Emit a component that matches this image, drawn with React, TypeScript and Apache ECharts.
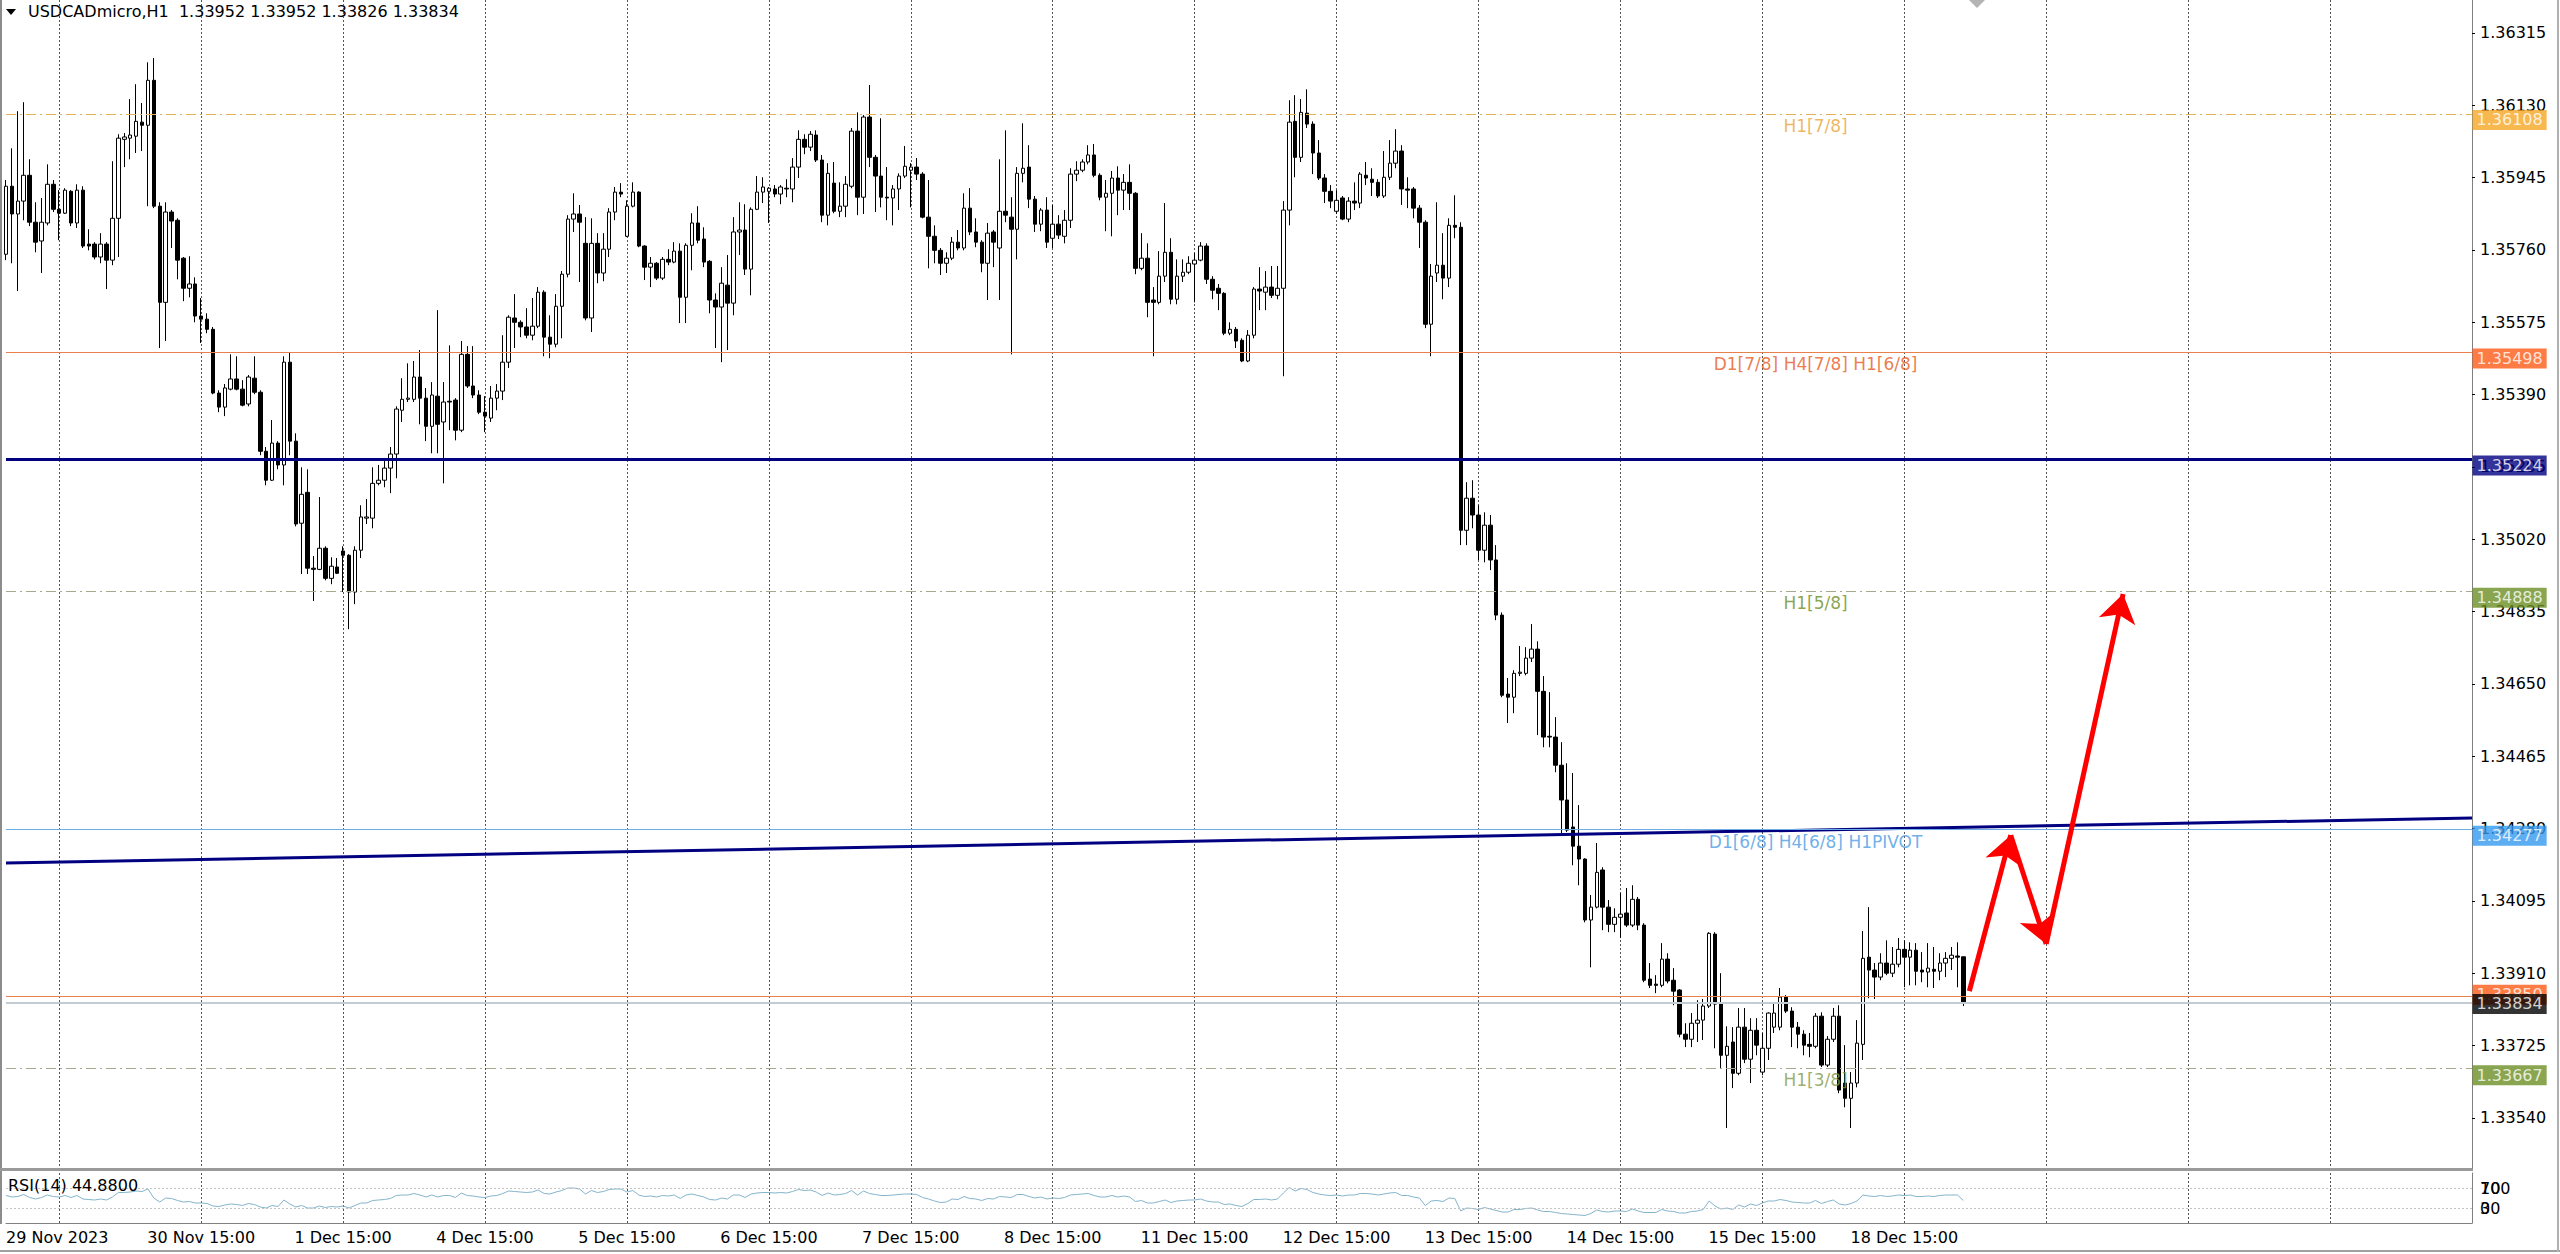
import React, { useEffect, useRef } from 'react';
import * as echarts from 'echarts';

const FONT = 'DejaVu Sans';

// hourly candles, each row: [open, high, low, close]
const candles: number[][] = [
  [1.35749, 1.35939, 1.35734, 1.35923], [1.35923, 1.36020, 1.35726, 1.35852], [1.35852, 1.36115, 1.35655, 1.35885], [1.35885, 1.36138, 1.35836, 1.35951],
  [1.35951, 1.35992, 1.35821, 1.35831], [1.35831, 1.35882, 1.35754, 1.35780], [1.35783, 1.35893, 1.35701, 1.35831], [1.35829, 1.35979, 1.35823, 1.35928],
  [1.35928, 1.35939, 1.35857, 1.35864], [1.35864, 1.35913, 1.35785, 1.35854], [1.35854, 1.35918, 1.35852, 1.35913], [1.35910, 1.35913, 1.35821, 1.35829],
  [1.35829, 1.35928, 1.35816, 1.35913], [1.35913, 1.35923, 1.35765, 1.35770], [1.35775, 1.35813, 1.35759, 1.35770], [1.35775, 1.35780, 1.35736, 1.35742],
  [1.35742, 1.35803, 1.35726, 1.35775], [1.35775, 1.35780, 1.35660, 1.35734], [1.35734, 1.35987, 1.35721, 1.35841], [1.35841, 1.36056, 1.35742, 1.36046],
  [1.36043, 1.36059, 1.35972, 1.36049], [1.36046, 1.36146, 1.35992, 1.36054], [1.36051, 1.36184, 1.36008, 1.36089], [1.36087, 1.36136, 1.36013, 1.36079],
  [1.36079, 1.36240, 1.35872, 1.36194], [1.36194, 1.36251, 1.35867, 1.35872], [1.35872, 1.35882, 1.35509, 1.35626], [1.35626, 1.35882, 1.35527, 1.35857],
  [1.35857, 1.35862, 1.35765, 1.35834], [1.35836, 1.35841, 1.35685, 1.35734], [1.35739, 1.35742, 1.35629, 1.35662], [1.35662, 1.35744, 1.35639, 1.35673],
  [1.35673, 1.35690, 1.35575, 1.35591], [1.35591, 1.35637, 1.35522, 1.35583], [1.35583, 1.35598, 1.35547, 1.35557], [1.35557, 1.35563, 1.35391, 1.35394],
  [1.35394, 1.35401, 1.35345, 1.35358], [1.35358, 1.35417, 1.35335, 1.35407], [1.35404, 1.35493, 1.35401, 1.35430], [1.35430, 1.35488, 1.35401, 1.35404],
  [1.35404, 1.35427, 1.35360, 1.35363], [1.35366, 1.35440, 1.35360, 1.35435], [1.35432, 1.35488, 1.35391, 1.35396], [1.35396, 1.35401, 1.35235, 1.35245],
  [1.35245, 1.35256, 1.35158, 1.35171], [1.35171, 1.35325, 1.35169, 1.35266], [1.35266, 1.35271, 1.35199, 1.35210], [1.35210, 1.35488, 1.35158, 1.35473],
  [1.35473, 1.35499, 1.35235, 1.35271], [1.35271, 1.35291, 1.35053, 1.35059], [1.35061, 1.35204, 1.34931, 1.35135], [1.35140, 1.35199, 1.34931, 1.34946],
  [1.34946, 1.34977, 1.34862, 1.34943], [1.34943, 1.35128, 1.34941, 1.34997], [1.34997, 1.35002, 1.34915, 1.34920], [1.34920, 1.34974, 1.34905, 1.34951],
  [1.34949, 1.34972, 1.34931, 1.34933], [1.34990, 1.35002, 1.34885, 1.34979], [1.34979, 1.34982, 1.34790, 1.34885], [1.34885, 1.35002, 1.34854, 1.34992],
  [1.34992, 1.35107, 1.34972, 1.35077], [1.35074, 1.35123, 1.35059, 1.35077], [1.35074, 1.35204, 1.35048, 1.35163], [1.35163, 1.35210, 1.35158, 1.35171],
  [1.35171, 1.35220, 1.35153, 1.35202], [1.35202, 1.35256, 1.35138, 1.35238], [1.35238, 1.35360, 1.35176, 1.35353], [1.35350, 1.35432, 1.35320, 1.35378],
  [1.35378, 1.35470, 1.35371, 1.35381], [1.35378, 1.35476, 1.35371, 1.35435], [1.35435, 1.35504, 1.35314, 1.35381], [1.35381, 1.35407, 1.35271, 1.35309],
  [1.35309, 1.35422, 1.35240, 1.35389], [1.35386, 1.35606, 1.35240, 1.35314], [1.35320, 1.35422, 1.35163, 1.35371], [1.35373, 1.35516, 1.35299, 1.35371],
  [1.35376, 1.35381, 1.35273, 1.35299], [1.35299, 1.35527, 1.35294, 1.35493], [1.35493, 1.35514, 1.35407, 1.35412], [1.35412, 1.35514, 1.35381, 1.35389],
  [1.35389, 1.35401, 1.35340, 1.35345], [1.35345, 1.35386, 1.35294, 1.35335], [1.35330, 1.35412, 1.35320, 1.35381], [1.35381, 1.35417, 1.35350, 1.35399],
  [1.35399, 1.35542, 1.35376, 1.35473], [1.35473, 1.35593, 1.35458, 1.35588], [1.35586, 1.35647, 1.35509, 1.35575], [1.35575, 1.35580, 1.35537, 1.35563],
  [1.35563, 1.35611, 1.35534, 1.35542], [1.35542, 1.35637, 1.35529, 1.35565], [1.35565, 1.35665, 1.35560, 1.35652], [1.35652, 1.35657, 1.35488, 1.35537],
  [1.35537, 1.35593, 1.35483, 1.35519], [1.35519, 1.35647, 1.35511, 1.35616], [1.35616, 1.35706, 1.35534, 1.35698], [1.35698, 1.35849, 1.35690, 1.35839],
  [1.35839, 1.35905, 1.35806, 1.35852], [1.35852, 1.35875, 1.35678, 1.35831], [1.35777, 1.35844, 1.35580, 1.35586], [1.35586, 1.35841, 1.35550, 1.35777],
  [1.35777, 1.35803, 1.35675, 1.35701], [1.35701, 1.35803, 1.35680, 1.35762], [1.35762, 1.35867, 1.35742, 1.35857], [1.35857, 1.35921, 1.35836, 1.35908],
  [1.35908, 1.35931, 1.35895, 1.35903], [1.35795, 1.35887, 1.35793, 1.35872], [1.35872, 1.35933, 1.35869, 1.35908], [1.35908, 1.35910, 1.35767, 1.35770],
  [1.35770, 1.35772, 1.35683, 1.35716], [1.35716, 1.35742, 1.35665, 1.35726], [1.35726, 1.35729, 1.35683, 1.35688], [1.35688, 1.35742, 1.35683, 1.35736],
  [1.35736, 1.35762, 1.35721, 1.35729], [1.35729, 1.35780, 1.35726, 1.35757], [1.35757, 1.35777, 1.35573, 1.35639], [1.35639, 1.35777, 1.35573, 1.35772],
  [1.35772, 1.35854, 1.35708, 1.35829], [1.35829, 1.35872, 1.35777, 1.35785], [1.35788, 1.35818, 1.35716, 1.35729], [1.35731, 1.35734, 1.35598, 1.35632],
  [1.35632, 1.35649, 1.35509, 1.35614], [1.35614, 1.35716, 1.35473, 1.35675], [1.35670, 1.35747, 1.35504, 1.35624], [1.35624, 1.35844, 1.35593, 1.35806],
  [1.35806, 1.35882, 1.35747, 1.35811], [1.35811, 1.35877, 1.35696, 1.35711], [1.35711, 1.35869, 1.35644, 1.35864], [1.35864, 1.35949, 1.35862, 1.35908],
  [1.35908, 1.35946, 1.35880, 1.35921], [1.35910, 1.35921, 1.35829, 1.35918], [1.35916, 1.35926, 1.35895, 1.35903], [1.35903, 1.35926, 1.35877, 1.35921],
  [1.35918, 1.35941, 1.35895, 1.35916], [1.35916, 1.35995, 1.35882, 1.35972], [1.35972, 1.36066, 1.35944, 1.36043], [1.36043, 1.36056, 1.36005, 1.36023],
  [1.36023, 1.36064, 1.36013, 1.36056], [1.36054, 1.36066, 1.35985, 1.35990], [1.35990, 1.36003, 1.35831, 1.35849], [1.35849, 1.35982, 1.35823, 1.35956],
  [1.35931, 1.35985, 1.35854, 1.35859], [1.35859, 1.35933, 1.35844, 1.35872], [1.35872, 1.35949, 1.35844, 1.35928], [1.35923, 1.36072, 1.35918, 1.36064],
  [1.36064, 1.36112, 1.35849, 1.35895], [1.35895, 1.36105, 1.35852, 1.36100], [1.36100, 1.36182, 1.35972, 1.35997], [1.35997, 1.36003, 1.35857, 1.35949],
  [1.35949, 1.36097, 1.35869, 1.35895], [1.35895, 1.35972, 1.35836, 1.35893], [1.35893, 1.35926, 1.35823, 1.35916], [1.35916, 1.35956, 1.35862, 1.35949],
  [1.35949, 1.36026, 1.35944, 1.35974], [1.35964, 1.35982, 1.35869, 1.35972], [1.35972, 1.35995, 1.35939, 1.35954], [1.35954, 1.35959, 1.35841, 1.35844],
  [1.35844, 1.35939, 1.35713, 1.35795], [1.35795, 1.35823, 1.35726, 1.35759], [1.35759, 1.35765, 1.35696, 1.35726], [1.35726, 1.35754, 1.35701, 1.35739],
  [1.35739, 1.35793, 1.35734, 1.35780], [1.35780, 1.35811, 1.35759, 1.35765], [1.35765, 1.35905, 1.35759, 1.35867], [1.35867, 1.35918, 1.35798, 1.35806],
  [1.35806, 1.35841, 1.35767, 1.35780], [1.35780, 1.35785, 1.35703, 1.35726], [1.35726, 1.35829, 1.35632, 1.35803], [1.35806, 1.35811, 1.35716, 1.35780],
  [1.35765, 1.35992, 1.35632, 1.35859], [1.35859, 1.36066, 1.35831, 1.35849], [1.35844, 1.35895, 1.35493, 1.35813], [1.35813, 1.35972, 1.35736, 1.35956],
  [1.35956, 1.36084, 1.35933, 1.35969], [1.35972, 1.36028, 1.35867, 1.35890], [1.35890, 1.35898, 1.35806, 1.35826], [1.35826, 1.35867, 1.35808, 1.35862],
  [1.35862, 1.35895, 1.35765, 1.35780], [1.35790, 1.35875, 1.35765, 1.35826], [1.35826, 1.35849, 1.35788, 1.35798], [1.35795, 1.35862, 1.35777, 1.35836],
  [1.35836, 1.35969, 1.35816, 1.35954], [1.35954, 1.35987, 1.35936, 1.35964], [1.35964, 1.35992, 1.35959, 1.35985], [1.35985, 1.36028, 1.35979, 1.36003],
  [1.36003, 1.36031, 1.35946, 1.35951], [1.35951, 1.35956, 1.35887, 1.35895], [1.35895, 1.35939, 1.35808, 1.35905], [1.35905, 1.35962, 1.35795, 1.35944],
  [1.35944, 1.35974, 1.35849, 1.35913], [1.35913, 1.35954, 1.35862, 1.35933], [1.35933, 1.35979, 1.35862, 1.35905], [1.35905, 1.35908, 1.35698, 1.35713],
  [1.35713, 1.35803, 1.35708, 1.35739], [1.35739, 1.35777, 1.35588, 1.35626], [1.35632, 1.35665, 1.35488, 1.35626], [1.35626, 1.35757, 1.35621, 1.35693],
  [1.35693, 1.35880, 1.35678, 1.35754], [1.35754, 1.35790, 1.35621, 1.35634], [1.35634, 1.35736, 1.35621, 1.35693], [1.35693, 1.35736, 1.35678, 1.35703],
  [1.35703, 1.35744, 1.35698, 1.35726], [1.35724, 1.35752, 1.35626, 1.35734], [1.35734, 1.35780, 1.35731, 1.35770], [1.35770, 1.35777, 1.35673, 1.35685],
  [1.35685, 1.35693, 1.35634, 1.35657], [1.35662, 1.35673, 1.35606, 1.35649], [1.35649, 1.35652, 1.35542, 1.35547], [1.35547, 1.35575, 1.35542, 1.35557],
  [1.35557, 1.35563, 1.35509, 1.35527], [1.35529, 1.35534, 1.35473, 1.35476], [1.35476, 1.35555, 1.35473, 1.35542], [1.35542, 1.35665, 1.35534, 1.35660],
  [1.35660, 1.35716, 1.35606, 1.35655], [1.35652, 1.35706, 1.35606, 1.35665], [1.35665, 1.35719, 1.35637, 1.35644], [1.35644, 1.35719, 1.35634, 1.35662],
  [1.35662, 1.35885, 1.35437, 1.35862], [1.35862, 1.36143, 1.35823, 1.36087], [1.36089, 1.36156, 1.35946, 1.35997], [1.35997, 1.36146, 1.35985, 1.36112],
  [1.36110, 1.36171, 1.36072, 1.36082], [1.36082, 1.36089, 1.35954, 1.36008], [1.36008, 1.36041, 1.35939, 1.35944], [1.35944, 1.35954, 1.35880, 1.35910],
  [1.35910, 1.35926, 1.35867, 1.35885], [1.35859, 1.35913, 1.35852, 1.35887], [1.35893, 1.35898, 1.35836, 1.35839], [1.35839, 1.35895, 1.35831, 1.35885],
  [1.35885, 1.35933, 1.35862, 1.35880], [1.35880, 1.35959, 1.35867, 1.35954], [1.35951, 1.35985, 1.35926, 1.35944], [1.35941, 1.35969, 1.35898, 1.35933],
  [1.35933, 1.35941, 1.35893, 1.35898], [1.35898, 1.36013, 1.35893, 1.35946], [1.35946, 1.36041, 1.35939, 1.35982], [1.35982, 1.36069, 1.35969, 1.36013],
  [1.36013, 1.36028, 1.35875, 1.35916], [1.35916, 1.35946, 1.35867, 1.35913], [1.35916, 1.35921, 1.35841, 1.35867], [1.35867, 1.35875, 1.35765, 1.35831],
  [1.35831, 1.35836, 1.35560, 1.35570], [1.35570, 1.35724, 1.35488, 1.35693], [1.35701, 1.35882, 1.35678, 1.35721], [1.35721, 1.35803, 1.35634, 1.35688],
  [1.35688, 1.35841, 1.35665, 1.35823], [1.35823, 1.35900, 1.35790, 1.35818], [1.35818, 1.35831, 1.35005, 1.35043], [1.35043, 1.35166, 1.35005, 1.35125],
  [1.35125, 1.35171, 1.35048, 1.35082], [1.35082, 1.35107, 1.34967, 1.34992], [1.34992, 1.35089, 1.34961, 1.35056], [1.35056, 1.35082, 1.34941, 1.34967],
  [1.34967, 1.35005, 1.34813, 1.34826], [1.34826, 1.34833, 1.34616, 1.34621], [1.34624, 1.34665, 1.34550, 1.34616], [1.34616, 1.34685, 1.34575, 1.34677],
  [1.34677, 1.34747, 1.34670, 1.34680], [1.34677, 1.34744, 1.34672, 1.34716], [1.34716, 1.34803, 1.34706, 1.34739], [1.34739, 1.34759, 1.34519, 1.34631],
  [1.34631, 1.34670, 1.34488, 1.34514], [1.34516, 1.34629, 1.34488, 1.34514], [1.34514, 1.34565, 1.34424, 1.34442], [1.34442, 1.34501, 1.34268, 1.34353],
  [1.34353, 1.34447, 1.34271, 1.34276], [1.34284, 1.34422, 1.34186, 1.34235], [1.34235, 1.34340, 1.34135, 1.34202], [1.34202, 1.34204, 1.34040, 1.34046],
  [1.34046, 1.34110, 1.33925, 1.34079], [1.34079, 1.34243, 1.34076, 1.34168], [1.34174, 1.34181, 1.34020, 1.34079], [1.34079, 1.34097, 1.34015, 1.34035],
  [1.34035, 1.34076, 1.34015, 1.34053], [1.34053, 1.34115, 1.34000, 1.34061], [1.34064, 1.34128, 1.34028, 1.34033], [1.34033, 1.34135, 1.34028, 1.34099],
  [1.34099, 1.34105, 1.34020, 1.34033], [1.34033, 1.34038, 1.33887, 1.33892], [1.33895, 1.33936, 1.33872, 1.33879], [1.33882, 1.33905, 1.33859, 1.33879],
  [1.33879, 1.33987, 1.33874, 1.33946], [1.33946, 1.33961, 1.33884, 1.33890], [1.33892, 1.33923, 1.33828, 1.33864], [1.33867, 1.33869, 1.33746, 1.33754],
  [1.33754, 1.33782, 1.33721, 1.33741], [1.33741, 1.33808, 1.33721, 1.33782], [1.33782, 1.33841, 1.33734, 1.33790], [1.33790, 1.33844, 1.33739, 1.33826],
  [1.33826, 1.34015, 1.33821, 1.34012], [1.34010, 1.34015, 1.33718, 1.33831], [1.33833, 1.33910, 1.33667, 1.33700], [1.33700, 1.33774, 1.33514, 1.33723],
  [1.33734, 1.33772, 1.33616, 1.33654], [1.33654, 1.33821, 1.33649, 1.33772], [1.33772, 1.33821, 1.33680, 1.33690], [1.33690, 1.33795, 1.33629, 1.33764],
  [1.33764, 1.33795, 1.33700, 1.33726], [1.33657, 1.33757, 1.33649, 1.33718], [1.33718, 1.33810, 1.33688, 1.33808], [1.33772, 1.33833, 1.33757, 1.33808],
  [1.33772, 1.33872, 1.33764, 1.33849], [1.33849, 1.33854, 1.33808, 1.33813], [1.33813, 1.33823, 1.33721, 1.33772], [1.33772, 1.33785, 1.33718, 1.33754],
  [1.33754, 1.33764, 1.33700, 1.33726], [1.33728, 1.33757, 1.33695, 1.33723], [1.33723, 1.33808, 1.33718, 1.33800], [1.33800, 1.33810, 1.33670, 1.33675],
  [1.33675, 1.33749, 1.33670, 1.33741], [1.33741, 1.33821, 1.33734, 1.33800], [1.33800, 1.33828, 1.33603, 1.33611], [1.33629, 1.33726, 1.33567, 1.33590],
  [1.33590, 1.33657, 1.33514, 1.33629], [1.33629, 1.33790, 1.33618, 1.33731], [1.33728, 1.34018, 1.33688, 1.33948], [1.33951, 1.34079, 1.33846, 1.33918],
  [1.33918, 1.33936, 1.33844, 1.33900], [1.33900, 1.33961, 1.33892, 1.33936], [1.33936, 1.33994, 1.33905, 1.33910], [1.33910, 1.33977, 1.33900, 1.33933],
  [1.33933, 1.34000, 1.33925, 1.33971], [1.33971, 1.33994, 1.33874, 1.33951], [1.33951, 1.33989, 1.33879, 1.33969], [1.33969, 1.33987, 1.33879, 1.33915],
  [1.33918, 1.33964, 1.33887, 1.33913], [1.33913, 1.33987, 1.33874, 1.33923], [1.33920, 1.33977, 1.33872, 1.33915], [1.33915, 1.33961, 1.33892, 1.33936],
  [1.33936, 1.33964, 1.33900, 1.33948], [1.33948, 1.33977, 1.33918, 1.33956], [1.33954, 1.33989, 1.33874, 1.33951], [1.33952, 1.33952, 1.33826, 1.33834],
];

// RSI(14) per bar
const rsi14: number[] = [
  55, 52, 53, 57, 51, 48, 51, 56, 53, 52, 55, 51, 55, 48, 47, 46, 48, 46, 52, 61,
  61, 62, 64, 63, 68, 50, 42, 50, 49, 45, 42, 43, 40, 40, 39, 34, 33, 36, 38, 37,
  35, 39, 37, 32, 30, 35, 33, 46, 38, 32, 35, 30, 30, 34, 31, 33, 32, 34, 30, 35,
  40, 40, 45, 46, 47, 49, 55, 56, 56, 59, 56, 52, 56, 52, 55, 55, 51, 60, 55, 54,
  52, 51, 54, 55, 59, 64, 63, 62, 61, 62, 66, 59, 58, 62, 65, 70, 70, 68, 58, 65,
  61, 63, 67, 68, 68, 62, 65, 56, 53, 54, 52, 55, 54, 56, 49, 56, 58, 55, 52, 47,
  46, 50, 48, 56, 56, 51, 58, 60, 61, 61, 60, 61, 60, 63, 67, 65, 66, 62, 55, 60,
  56, 57, 59, 65, 56, 64, 59, 57, 55, 55, 56, 57, 58, 58, 57, 51, 48, 44, 41, 42,
  48, 47, 53, 49, 48, 45, 49, 48, 53, 52, 51, 57, 57, 53, 50, 52, 48, 50, 49, 51,
  56, 57, 58, 59, 55, 52, 52, 55, 52, 54, 52, 43, 45, 40, 40, 43, 46, 41, 44, 45,
  46, 46, 48, 44, 42, 42, 37, 38, 35, 33, 39, 47, 47, 48, 46, 48, 60, 71, 64, 69,
  67, 61, 58, 56, 55, 56, 54, 56, 56, 59, 59, 58, 56, 58, 60, 61, 55, 55, 52, 50,
  35, 44, 45, 43, 50, 49, 24, 30, 29, 27, 31, 28, 25, 22, 22, 27, 27, 29, 30, 26,
  23, 23, 21, 19, 18, 17, 16, 15, 19, 26, 23, 22, 24, 24, 23, 28, 24, 21, 21, 21,
  27, 24, 23, 20, 20, 23, 24, 27, 44, 34, 28, 30, 27, 36, 32, 38, 35, 40, 44, 44,
  47, 45, 42, 41, 40, 40, 45, 39, 43, 46, 38, 36, 39, 44, 56, 54, 53, 55, 53, 54,
  56, 55, 56, 53, 53, 54, 53, 55, 56, 56, 56, 44.88,
];

const priceTicks = [1.3354, 1.33725, 1.3391, 1.34095, 1.3428, 1.34465, 1.3465, 1.34835, 1.3502, 1.35205, 1.3539, 1.35575, 1.3576, 1.35945, 1.3613, 1.36315];
const rsiTicks = [30, 70];
const rsiLevels = [30, 70];

// [bar index, label]
const timeLabels: [number, string][] = [
  [0, '29 Nov 2023'], [33, '30 Nov 15:00'], [57, '1 Dec 15:00'], [81, '4 Dec 15:00'], [105, '5 Dec 15:00'],
  [129, '6 Dec 15:00'], [153, '7 Dec 15:00'], [177, '8 Dec 15:00'], [201, '11 Dec 15:00'], [225, '12 Dec 15:00'],
  [249, '13 Dec 15:00'], [273, '14 Dec 15:00'], [297, '15 Dec 15:00'], [321, '18 Dec 15:00'],
];

// horizontal levels
const levelPrices = [1.36108, 1.35498, 1.35224, 1.34888, 1.34277, 1.3385, 1.33667];
const levelTexts = ['H1[7/8]', 'D1[7/8] H4[7/8] H1[6/8]', '', 'H1[5/8]', 'D1[6/8] H4[6/8] H1PIVOT', '', 'H1[3/8]'];
const bidPrice = 1.33834;

// sloped trend line [bar, price]
const trendPoints = [[0, 1.34192], [417, 1.34307]];
// hand-drawn red arrow path [bar, price]
const arrowPath = [[332, 1.33864], [339, 1.34263], [345, 1.33985], [358, 1.3488]];

const titleText = 'USDCADmicro,H1  1.33952 1.33952 1.33826 1.33834';
const rsiTitle = 'RSI(14) 44.8800';

// styles (index-matched with levelPrices)
const levelLineStyles = [
  { color: '#e3b257', width: 1, type: [10, 4, 2, 4] },
  { color: '#e8804c', width: 1, type: 'solid' },
  { color: '#000080', width: 3, type: 'solid' },
  { color: '#a8a88e', width: 1, type: [10, 4, 2, 4] },
  { color: '#6eaee6', width: 1, type: 'solid' },
  { color: '#e8804c', width: 1, type: 'solid' },
  { color: '#a8a88e', width: 1, type: [10, 4, 2, 4] },
];
const levelTextColors = ['#e8a53a', '#e65a22', '#000080', '#6b8e23', '#4a9be3', '#e65a22', '#7f9b4a'];
const tagColors = ['#f5a623', '#fd5a17', '#000080', '#6b8e23', '#3399ee', '#fd5a17', '#6b8e23'];
const tagOffsets = [6, 6, 6, 7, 6, -2, 7];

export default function App() {
  const ref = useRef<HTMLDivElement>(null);

  useEffect(() => {
    const chart = echarts.init(ref.current as HTMLDivElement, null, { renderer: 'svg' });
    const N = 418;
    const cats = Array.from({ length: N }, (_, i) => String(i));
    const labelMap = new Map<number, string>(timeLabels);
    const isGrid = (i: number) => i >= 9 && (i - 9) % 24 === 0;
    const vSplit = { show: true, interval: (i: number) => isGrid(i), lineStyle: { color: '#555555', type: [2, 2], width: 1 } };
    const LABEL_BAR = 306;

    const tagLabel = (bg: string, dy: number) => ({
      show: true, position: 'right', distance: 0, offset: [0, dy],
      color: '#ffffff', backgroundColor: bg, padding: [2, 4, 2, 4], lineHeight: 16,
      fontSize: 16, fontFamily: FONT, formatter: (p: any) => p.value[1].toFixed(5),
    });

    const option: any = {
      animation: false,
      backgroundColor: '#ffffff',
      grid: [
        { left: 6, right: 88, top: 0, height: 1168 },
        { left: 6, right: 88, top: 1173, height: 50 },
      ],
      xAxis: [
        {
          type: 'category', gridIndex: 0, data: cats, boundaryGap: false,
          axisLine: { show: false }, axisTick: { show: false }, axisLabel: { show: false },
          splitLine: vSplit,
        },
        {
          type: 'category', gridIndex: 1, data: cats, boundaryGap: false,
          axisLine: { show: true, onZero: false, lineStyle: { color: '#808080' } },
          axisTick: { show: false },
          axisLabel: {
            show: true, interval: (i: number) => labelMap.has(i),
            formatter: (_v: string, i: number) => labelMap.get(i) || '',
            color: '#000', fontSize: 16, fontFamily: FONT, margin: 6, alignMinLabel: 'left',
          },
          splitLine: vSplit,
        },
      ],
      yAxis: [
        {
          type: 'value', gridIndex: 0, position: 'right', min: 1.334117, max: 1.363994,
          axisLine: { show: true, lineStyle: { color: '#7f7f7f' } },
          axisTick: { show: true, length: 3, customValues: priceTicks, lineStyle: { color: '#000' } },
          axisLabel: { customValues: priceTicks, formatter: (v: number) => v.toFixed(5), color: '#000', fontSize: 16, fontFamily: FONT, margin: 8 },
          splitLine: { show: false },
        },
        {
          type: 'value', gridIndex: 1, position: 'right', min: 0, max: 100,
          axisLine: { show: true, lineStyle: { color: '#7f7f7f' } },
          axisTick: { show: false },
          axisLabel: { customValues: rsiTicks, formatter: (v: number) => String(v), color: '#000', fontSize: 16, fontFamily: FONT, margin: 8 },
          splitLine: { show: false },
        },
        {
          type: 'value', gridIndex: 1, position: 'right', min: 0, max: 100,
          axisLine: { show: false }, axisTick: { show: false },
          axisLabel: { customValues: rsiTicks, formatter: (v: number) => (v === 70 ? '100' : '0'), color: '#000', fontSize: 16, fontFamily: FONT, margin: 8 },
          splitLine: { show: false },
        },
      ],
      series: [
        {
          type: 'candlestick', xAxisIndex: 0, yAxisIndex: 0, clip: false, barWidth: 4,
          data: candles.map(([o, h, l, c]) => [o, c, l, h]),
          itemStyle: { color: '#ffffff', color0: '#000000', borderColor: '#000000', borderColor0: '#000000', borderColorDoji: '#000000', borderWidth: 1 },
          markLine: {
            silent: true, symbol: ['none', 'none'], label: { show: false }, animation: false, precision: 5,
            data: [
              ...levelPrices.map((p, i) => ({ yAxis: p, lineStyle: levelLineStyles[i] })),
              { yAxis: bidPrice, lineStyle: { color: '#c3cbd3', width: 2, type: 'solid' } },
            ],
          },
        },
        {
          type: 'line', xAxisIndex: 0, yAxisIndex: 0, data: trendPoints, symbol: 'none', z: 4,
          lineStyle: { color: '#000080', width: 3 },
        },
        {
          type: 'lines', coordinateSystem: 'cartesian2d', xAxisIndex: 0, yAxisIndex: 0, z: 6,
          symbol: ['none', 'arrow'], symbolSize: 28,
          lineStyle: { color: '#ff0000', width: 5, opacity: 1, curveness: 0 },
          data: arrowPath.slice(0, -1).map((p, i) => ({ coords: [p, arrowPath[i + 1]] })),
        },
        {
          type: 'scatter', xAxisIndex: 0, yAxisIndex: 0, symbolSize: 1, clip: false, z: 7,
          itemStyle: { color: 'rgba(0,0,0,0)' },
          data: levelPrices
            .map((p, i) => ({
              value: [LABEL_BAR, p], name: levelTexts[i],
              label: { show: true, position: 'bottom', distance: 3, fontSize: 17, fontFamily: FONT, color: levelTextColors[i], formatter: levelTexts[i] },
            }))
            .filter((d) => d.name),
        },
        {
          type: 'scatter', xAxisIndex: 0, yAxisIndex: 0, symbolSize: 1, clip: false, z: 10,
          itemStyle: { color: 'rgba(0,0,0,0)' },
          data: levelPrices.map((p, i) => ({ value: [N - 1, p], label: tagLabel(tagColors[i], tagOffsets[i]) })),
        },
        {
          type: 'scatter', xAxisIndex: 0, yAxisIndex: 0, symbolSize: 1, clip: false, z: 11,
          itemStyle: { color: 'rgba(0,0,0,0)' },
          data: [{ value: [N - 1, bidPrice], label: tagLabel('#000000', 1) }],
        },
        {
          type: 'line', xAxisIndex: 1, yAxisIndex: 1, data: rsi14, symbol: 'none', z: 3,
          lineStyle: { color: '#84b4cc', width: 1 },
          markLine: {
            silent: true, symbol: ['none', 'none'], label: { show: false },
            lineStyle: { color: '#c4c4c4', type: [2, 2], width: 1 },
            data: rsiLevels.map((v) => ({ yAxis: v })),
          },
        },
      ],
      graphic: [
        { type: 'rect', shape: { x: 0, y: 0, width: 2, height: 1224 }, style: { fill: '#8c8c8c' }, silent: true },
        { type: 'rect', shape: { x: 0, y: 1168, width: 2473, height: 3 }, style: { fill: '#9a9a9a' }, silent: true },
        { type: 'rect', shape: { x: 0, y: 1250, width: 2560, height: 2 }, style: { fill: '#a0a0a0' }, silent: true },
        { type: 'rect', shape: { x: 2557, y: 0, width: 2, height: 1252 }, style: { fill: '#b0b0b0' }, silent: true },
        { type: 'polygon', shape: { points: [[1969, 0], [1985, 0], [1977, 8]] }, style: { fill: '#b4b4b4' }, silent: true },
        { type: 'polygon', shape: { points: [[6, 9], [16, 9], [11, 15]] }, style: { fill: '#000' }, silent: true },
        { type: 'text', x: 28, y: 3, style: { text: titleText, fill: '#000', font: `16px "${FONT}"` }, silent: true },
        { type: 'text', x: 8, y: 1177, style: { text: rsiTitle, fill: '#000', font: `16px "${FONT}"` }, silent: true, z: 20 },
      ],
    };

    chart.setOption(option);
    return () => chart.dispose();
  }, []);

  return <div ref={ref} style={{ position: 'absolute', left: 0, top: 0, width: 2560, height: 1254, background: '#fff' }} />;
}
